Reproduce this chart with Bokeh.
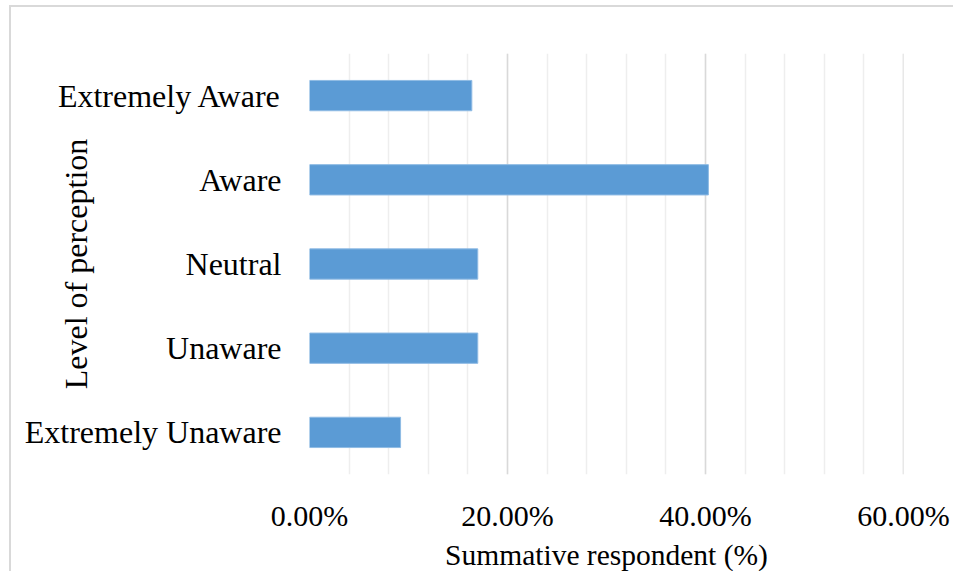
import math
from bokeh.plotting import figure
from bokeh.models import (FactorRange, Range1d, SingleIntervalTicker, NumeralTickFormatter,
                          ColumnDataSource)
from bokeh.embed import file_html
from bokeh.resources import INLINE

categories = ["Extremely Unaware", "Unaware", "Neutral", "Aware", "Extremely Aware"]
values = [0.092, 0.170, 0.170, 0.403, 0.164]
x_title = "Summative respondent (%)"
y_title = "Level of perception"

FONT = "Liberation Serif"

src = ColumnDataSource(dict(cat=categories, val=values))

p = figure(width=944, height=566, output_backend="svg", toolbar_location=None,
           y_range=FactorRange(*categories), x_range=Range1d(0, 0.6001),
           min_border_left=298, min_border_right=52, min_border_top=46, min_border_bottom=99)

p.hbar(y="cat", right="val", left=0, height=0.36, source=src,
       fill_color="#5b9bd5", line_color="#8fbbe4", line_width=1)

p.outline_line_color = None
p.ygrid.grid_line_color = None
p.xaxis.ticker = SingleIntervalTicker(interval=0.2, num_minor_ticks=5)
p.xgrid.ticker = p.xaxis.ticker
p.xgrid.grid_line_color = "#d9d9d9"
p.xgrid.grid_line_width = 1.5
p.xgrid.minor_grid_line_color = "#eeeeee"
p.xgrid.minor_grid_line_width = 1.5
p.xaxis.formatter = NumeralTickFormatter(format="0.00%")

for ax in (p.xaxis[0], p.yaxis[0]):
    ax.axis_line_color = None
    ax.major_tick_line_color = None
    ax.minor_tick_line_color = None
    ax.major_tick_out = 0
    ax.minor_tick_out = 0
    ax.major_label_text_font = FONT
    ax.major_label_text_color = "#000000"
    ax.axis_label_text_font = FONT
    ax.axis_label_text_font_style = "normal"
    ax.axis_label_text_color = "#000000"

p.xaxis.major_label_text_font_size = "30px"
p.xaxis.major_label_standoff = 24
p.xaxis.axis_label = x_title
p.xaxis.axis_label_text_font_size = "29.5px"
p.xaxis.axis_label_standoff = 4

p.yaxis.major_label_text_font_size = "32px"
p.yaxis.major_label_standoff = 28
p.yaxis.axis_label = y_title
p.yaxis.axis_label_text_font_size = "32px"
# the title sits over the tick-label column, as in the original
p.yaxis.axis_label_standoff = -72

p.styles = {"border-top": "2px solid #d9d9d9", "border-left": "2px solid #d9d9d9",
            "margin-left": "9px", "margin-top": "5px"}

open("out.html", "w").write(file_html(p, INLINE))
